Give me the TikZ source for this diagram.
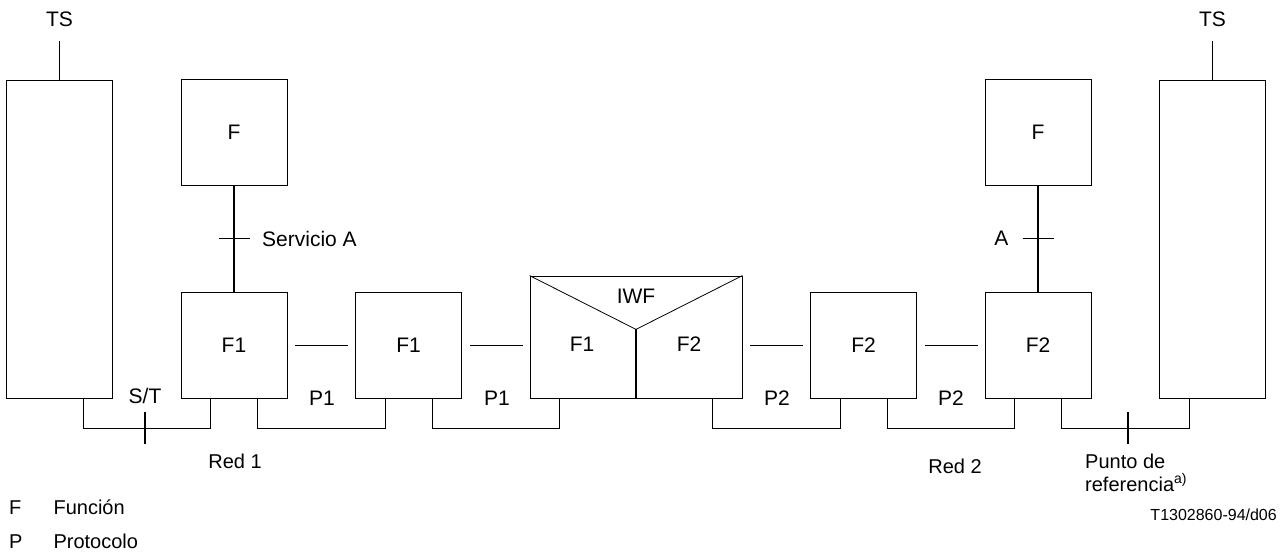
\documentclass[tikz,border=0pt]{standalone}
\usepackage{fontspec}
\setmainfont{Liberation Sans}
\usetikzlibrary{positioning}
\tikzset{node distance=67.7pt,
	every node/.style={
		inner sep=0pt,
		font=\fontsize{21}{25}\selectfont
	},
	box/.style={
		draw,
		line width=0.8pt,
		minimum width=106pt,
		minimum height=106pt
	},
	tall/.style={box, minimum height=318pt},
	link/.style={draw, line width=1.8pt, shorten <=8pt, shorten >=7pt},
	stem/.style={draw, line width=1.6pt},
	wire/.style={draw, line width=0.8pt},
	tick/.style={draw, line width=1.6pt},
	note/.style={font=\fontsize{20}{23}\selectfont}
}

\begin{document}
\begin{tikzpicture}[x=1pt,y=-1pt]
	\useasboundingbox (0,0) rectangle (1287,553);
	% row of network functions
	\node[box] (f1a) at (234,345) {F1};
	\node[box, right=of f1a] (f1b) {F1};
	\node[box, minimum width=212pt, minimum height=122pt, right=of f1b.south east, anchor=south west] (iwf) {};
	\node[box, right=of iwf.south east, anchor=south west] (f2a) {F2};
	\node[box, right=of f2a] (f2b) {F2};
	\node[tall, left=of f1a.south west, anchor=south east] (tsL) {};
	\node[tall, right=of f2b.south east, anchor=south west] (tsR) {};
	\node[box, above=106pt of f1a] (fa) {F};
	\node[box, above=106pt of f2b] (fb) {F};

	% interworking function
	\coordinate (apex) at ([yshift=69pt]iwf.south);
	\draw[line width=0.8pt] (iwf.north west) -- (apex) -- (iwf.north east);
	\draw[line width=1.2pt] (apex) -- (iwf.south);
	\node (iwflbl) at ([yshift=-21pt]iwf.north) {IWF};
	\node (iwf1) at ([shift={(-54pt,54pt)}]iwf.south) {F1};
	\node (iwf2) at ([shift={(53pt,54pt)}]iwf.south) {F2};

	\foreach \a/\b in {f1a/f1b, f1b/iwf, iwf/f2a, f2a/f2b}
		\draw[link] ([yshift=53pt]\a.south east) -- ([yshift=53pt]\b.south west);
	\foreach \a/\b in {tsL/f1a, f1a/f1b, f1b/iwf, iwf/f2a, f2a/f2b, f2b/tsR}
		\draw[wire] ([xshift=-30pt]\a.south east) -- ++(0pt,-30pt) -| ([xshift=30pt]\b.south west);

	% services
	\draw[stem] (fa) -- coordinate (svcA) (f1a);
	\draw[stem] (fb) -- coordinate (svcB) (f2b);
	\draw[tick] ([xshift=-15.5pt]svcA) -- ([xshift=15.5pt]svcA);
	\draw[tick] ([xshift=-15.5pt]svcB) -- ([xshift=15.5pt]svcB);
	\node[anchor=west] (svcAlbl) at ([xshift=28pt]svcA) {Servicio A};
	\node[anchor=east] (svcBlbl) at ([xshift=-29.5pt]svcB) {A};

	% terminals
	\draw[stem] (tsL.north) -- ++(0pt,39pt) coordinate (tsLend);
	\draw[stem] (tsR.north) -- ++(0pt,39pt) coordinate (tsRend);
	\node[above=14pt of tsLend] (tsLlbl) {TS};
	\node[above=14pt of tsRend] (tsRlbl) {TS};

	% reference points
	\coordinate (st) at (145,428);
	\coordinate (refpt) at (1128,428);
	\draw[tick] ([yshift=16pt]st) -- ([yshift=-16pt]st);
	\draw[tick] ([yshift=16pt]refpt) -- ([yshift=-16pt]refpt);
	\node (stlbl) at ([yshift=32pt]st) {S/T};
	\node[note, anchor=north west, align=left] (reflbl) at ([shift={(-43pt,-26pt)}]refpt) {Punto de\\referencia\raisebox{8pt}{\fontsize{14}{16}\selectfont a)}};

	\node (p1a) at (322,398) {P1};
	\node (p1b) at (497,398) {P1};
	\node (p2a) at (777,398) {P2};
	\node (p2b) at (951,398) {P2};
	\node[note] (red1) at (235,461) {Red 1};
	\node[note] (red2) at (955,466) {Red 2};

	\node[note, anchor=west] (legend) at (9,525) {\renewcommand\arraystretch{1.45}%
		\begin{tabular}{@{}l@{\hspace{31pt}}l@{}}
			F & Función\\
			P & Protocolo
		\end{tabular}};
	\node[font=\fontsize{16}{19}\selectfont, anchor=east] (figcode) at (1277,515) {T1302860-94/d06};
\end{tikzpicture}
\end{document}
